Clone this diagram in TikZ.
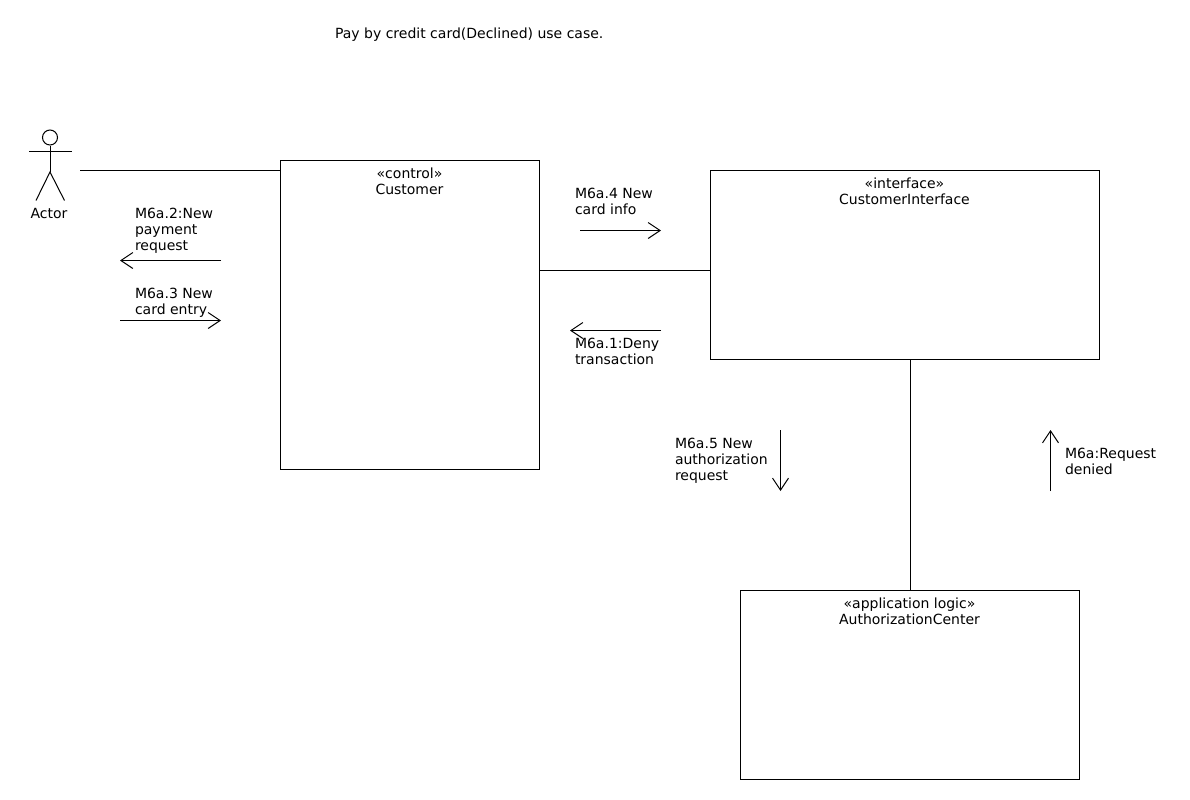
\documentclass[tikz,border=0pt]{standalone}
\usepackage{fontspec}
\setmainfont{DejaVu Sans}
\usetikzlibrary{arrows.meta}
\usetikzlibrary{calc}
\tikzset{
  x=0.75pt, y=-0.75pt,
  every path/.style={line width=0.75pt},
  >={Straight Barb[length=9pt,width=12pt]},
  umlbox/.style={draw, inner sep=0pt, anchor=north west},
  boxtext/.style={anchor=north, align=center, inner sep=0pt, font=\fontsize{10.5pt}{12pt}\selectfont, yshift=-6pt},
  msg/.style={anchor=north west, align=left, inner sep=0pt, font=\fontsize{10.5pt}{12pt}\selectfont},
}
\begin{document}
\begin{tikzpicture}
          \useasboundingbox (0,0) rectangle (1190,800);

          \node[msg] (title) at (334.5,27) {Pay by credit card(Declined) use case.};

          % actor
          \node[draw, circle, minimum size=11.25pt, inner sep=0pt] (head) at (50,137.5) {};
          \coordinate (neck) at (50,151);
          \coordinate (hip) at (50,172);
          \draw (head.south) -- (hip);
          \draw (29,151) coordinate (armleft) -- (72,151) coordinate (armright);
          \draw (36,200.5) coordinate (footleft) -- (hip) -- (64.5,200.5) coordinate (footright);
          \node[msg, anchor=north] (actor) at (49,208) {Actor};

          % boxes
          \node[umlbox, minimum width=194.25pt, minimum height=231.75pt] (customer) at (279.5,159.5) {};
          \node[umlbox, minimum width=291.75pt, minimum height=141.75pt] (interface) at (709.5,169.5) {};
          \node[umlbox, minimum width=254.25pt, minimum height=141.75pt] (center) at (739.5,589.5) {};

          \node[boxtext] (customertext) at (customer.north) {«control»\\Customer};
          \node[boxtext] (interfacetext) at (interface.north) {«interface»\\CustomerInterface};
          \node[boxtext] (centertext) at (center.north) {«application logic»\\AuthorizationCenter};

          % links
          \coordinate (actorend) at (80,170.5);
          \coordinate (linkend) at (539,270.5);
          \coordinate (centerend) at (910.5,590);
          \draw (actorend) -- (actorend -| customer.west);
          \draw (linkend) -- (linkend -| interface.west);
          \draw (centerend) -- (centerend |- interface.south);

          % messages
          \coordinate (m2a) at (221,260.5);
          \coordinate (m2b) at (120,260.5);
          \draw [->] (m2a) -- (m2b);
          \node[msg] (m2) at (134.5,208) {M6a.2:New\\payment\\request};

          \coordinate (m3a) at (120,320.5);
          \coordinate (m3b) at (221,320.5);
          \draw [->] (m3a) -- (m3b);
          \node[msg] (m3) at (134.5,288) {M6a.3 New\\card entry};

          \coordinate (m4a) at (580,230.5);
          \coordinate (m4b) at (661,230.5);
          \draw [->] (m4a) -- (m4b);
          \node[msg] (m4) at (574.5,188) {M6a.4 New\\card info};

          \coordinate (m1a) at (661,330.5);
          \coordinate (m1b) at (570,330.5);
          \draw [->] (m1a) -- (m1b);
          \node[msg] (m1) at (574.5,338) {M6a.1:Deny\\transaction};

          \coordinate (m5a) at (780.5,430);
          \coordinate (m5b) at (780.5,491);
          \draw [->] (m5a) -- (m5b);
          \node[msg] (m5) at (674.5,438) {M6a.5 New\\authorization\\request};

          \coordinate (m6a) at (1050.5,491);
          \coordinate (m6b) at (1050.5,430);
          \draw [->] (m6a) -- (m6b);
          \node[msg] (m6) at (1064.5,448) {M6a:Request\\denied};

\end{tikzpicture}
\end{document}
